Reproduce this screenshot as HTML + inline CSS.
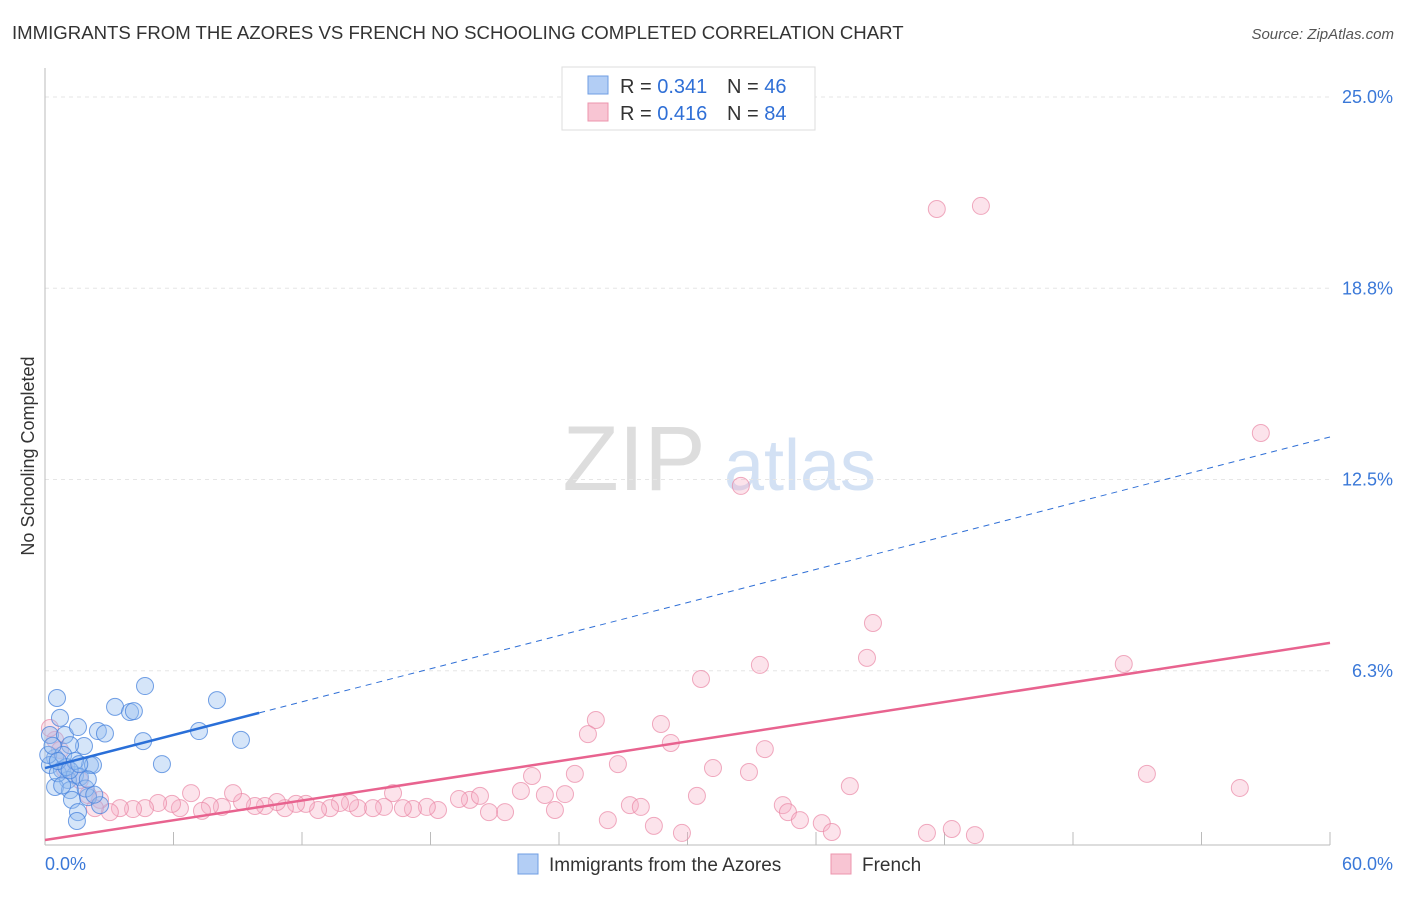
<!DOCTYPE html>
<html><head><meta charset="utf-8"><style>
body{margin:0;background:#fff;font-family:"Liberation Sans",sans-serif}
svg text{font-family:"Liberation Sans",sans-serif}
</style></head><body>
<svg width="1406" height="892" xmlns="http://www.w3.org/2000/svg">
<text x="12" y="39" font-size="18.6" fill="#333">IMMIGRANTS FROM THE AZORES VS FRENCH NO SCHOOLING COMPLETED CORRELATION CHART</text>
<text x="1394" y="39" font-size="15" fill="#555" font-style="italic" text-anchor="end">Source: ZipAtlas.com</text>
<g>
<text x="634" y="490" font-size="92" fill="#ddd" font-family="Liberation Serif" text-anchor="middle">ZIP</text>
<text x="800" y="490" font-size="72" fill="#d3e1f4" text-anchor="middle">atlas</text>
</g>
<g id="grid"></g>
<g id="axes"></g>
<g id="marks"></g>
<text transform="translate(34,456) rotate(-90)" font-size="18" fill="#333" text-anchor="middle">No Schooling Completed</text>
<g>
<rect x="562" y="67" width="253" height="63" fill="#fff" stroke="#ddd"/>
<rect x="588" y="76" width="20" height="18" fill="#b3cef5" stroke="#6f9ee3"/>
<rect x="588" y="103" width="20" height="18" fill="#f8c5d3" stroke="#ec95ae"/>
<text x="620" y="93" font-size="20" fill="#333">R = <tspan fill="#2f6fd6">0.341</tspan></text>
<text x="727" y="93" font-size="20" fill="#333">N = <tspan fill="#2f6fd6">46</tspan></text>
<text x="620" y="120" font-size="20" fill="#333">R = <tspan fill="#2f6fd6">0.416</tspan></text>
<text x="727" y="120" font-size="20" fill="#333">N = <tspan fill="#2f6fd6">84</tspan></text>
</g>
<g>
<rect x="518" y="854" width="20" height="20" fill="#b3cef5" stroke="#6f9ee3"/>
<text x="549" y="871" font-size="19" fill="#333">Immigrants from the Azores</text>
<rect x="831" y="854" width="20" height="20" fill="#f8c5d3" stroke="#ec95ae"/>
<text x="862" y="871" font-size="19" fill="#333">French</text>
</g>
</svg>
<script>
const yTicks=[25,18.75,12.5,6.25];
const yTickLabels=["25.0%","18.8%","12.5%","6.3%"];
const xTicks=[0,6,12,18,24,30,36,42,48,54,60];
const azoresX=[0.56,0.70,0.23,0.93,1.54,2.47,1.82,1.17,0.47,0.23,0.79,1.40,1.07,1.63,2.10,2.24,0.47,1.17,1.26,2.01,2.57,1.54,1.49,3.27,3.97,4.15,4.67,4.58,5.46,7.19,8.03,9.15,2.8,0.6,0.15,1.9,0.85,0.35,1.0,2.3,0.8,1.4,2.0,0.6,1.15,1.6];
const azoresY=[5.36,4.71,4.15,4.15,4.41,4.28,3.79,3.82,3.40,3.17,3.01,2.84,2.68,2.78,3.17,3.17,2.45,2.35,2.03,2.12,1.86,1.63,1.34,5.07,4.90,4.93,5.75,3.95,3.20,4.28,5.29,3.99,4.2,2.9,3.5,2.4,3.5,3.8,3.1,2.2,2.5,3.3,2.7,3.3,3.0,3.2];
const frenchX=[41.64,43.70,56.77,32.49,38.66,38.38,33.38,30.63,50.37,25.72,25.35,28.76,29.22,33.61,26.75,31.19,32.87,51.45,55.79,37.58,24.74,22.74,22.22,24.28,23.34,30.44,34.45,34.69,35.25,36.27,36.74,41.18,42.34,43.42,28.43,29.74,26.28,27.31,27.82,23.81,21.48,20.73,19.84,19.33,20.31,18.35,17.83,17.18,16.71,16.25,15.83,15.31,14.61,14.24,13.77,13.31,12.75,12.18,11.72,11.20,10.83,10.27,9.80,9.20,8.78,8.26,7.70,7.33,6.82,6.30,5.93,5.28,4.67,4.11,3.50,3.03,2.57,2.33,2.01,1.63,0.93,0.47,0.23,0.70];
const frenchY=[21.34,21.44,14.02,12.29,7.81,6.67,6.44,5.98,6.47,4.64,4.18,4.51,3.89,3.69,3.20,3.07,2.94,2.88,2.42,2.48,2.88,2.81,2.32,2.22,2.19,2.16,1.86,1.63,1.37,1.27,0.98,0.95,1.08,0.88,1.18,0.95,1.37,1.86,1.80,1.70,1.63,1.63,2.03,2.06,2.16,1.70,1.80,1.73,1.76,2.25,1.80,1.76,1.76,1.93,1.93,1.76,1.70,1.90,1.90,1.76,1.96,1.83,1.83,1.96,2.25,1.80,1.83,1.67,2.25,1.76,1.90,1.93,1.76,1.73,1.76,1.63,2.03,1.76,2.19,2.68,3.01,3.99,4.38,3.66];
const azoresTrend=[3.07,13.89];
const frenchTrend=[0.72,7.16];
const NS="http://www.w3.org/2000/svg";
const X0=45,X1=1330,Y0=862,PPY=30.6;
const sx=v=>X0+(X1-X0)*v/60;
const sy=v=>Y0-v*PPY;
function mk(tag,attrs,parent){const e=document.createElementNS(NS,tag);for(const k in attrs)e.setAttribute(k,attrs[k]);document.getElementById(parent).appendChild(e);return e;}
yTicks.forEach((t,i)=>{
 const l=mk('line',{x1:X0,x2:X1,y1:sy(t),y2:sy(t),stroke:'#e6e6e6','stroke-dasharray':'4,4'},'grid');
 
 
 const tx=mk('text',{x:1393,y:sy(t)+6,'font-size':18,fill:'#3a78d8','text-anchor':'end'},'axes');
 tx.textContent=yTickLabels[i];
 
 
});
const ya=mk('line',{x1:X0,x2:X0,y1:68,y2:845,stroke:'#bbb'},'axes');


const xa=mk('line',{x1:X0,x2:X1,y1:845,y2:845,stroke:'#bbb'},'axes');


xTicks.forEach(t=>{const l=mk('line',{x1:sx(t),x2:sx(t),y1:832,y2:845,stroke:'#bbb'},'axes');
 
 });
const xl0=mk('text',{x:45,y:870,'font-size':18,fill:'#3a78d8'},'axes');xl0.textContent='0.0%';


const xl1=mk('text',{x:1393,y:870,'font-size':18,fill:'#3a78d8','text-anchor':'end'},'axes');xl1.textContent='60.0%';


frenchX.forEach((x,i)=>{const c=mk('circle',{cx:sx(x),cy:sy(frenchY[i]),r:8.5,fill:'rgba(246,175,197,0.35)',stroke:'rgba(234,135,165,0.7)','stroke-width':1},'marks');
 
 });
azoresX.forEach((x,i)=>{const c=mk('circle',{cx:sx(x),cy:sy(azoresY[i]),r:8.5,fill:'rgba(150,190,240,0.4)',stroke:'rgba(70,130,220,0.75)','stroke-width':1},'marks');
 
 });
const f=v=>azoresTrend[0]+(azoresTrend[1]-azoresTrend[0])*v/60;
const bd=mk('line',{x1:sx(10),y1:sy(f(10)),x2:sx(60),y2:sy(f(60)),stroke:'#2f6fd6','stroke-width':1,'stroke-dasharray':'6,5'},'marks');


const bs=mk('line',{x1:sx(0),y1:sy(f(0)),x2:sx(10),y2:sy(f(10)),stroke:'#2a6fd8','stroke-width':2.5},'marks');


const pl=mk('line',{x1:sx(0),y1:sy(frenchTrend[0]),x2:sx(60),y2:sy(frenchTrend[1]),stroke:'#e8638f','stroke-width':2.5},'marks');


</script>
</body></html>
